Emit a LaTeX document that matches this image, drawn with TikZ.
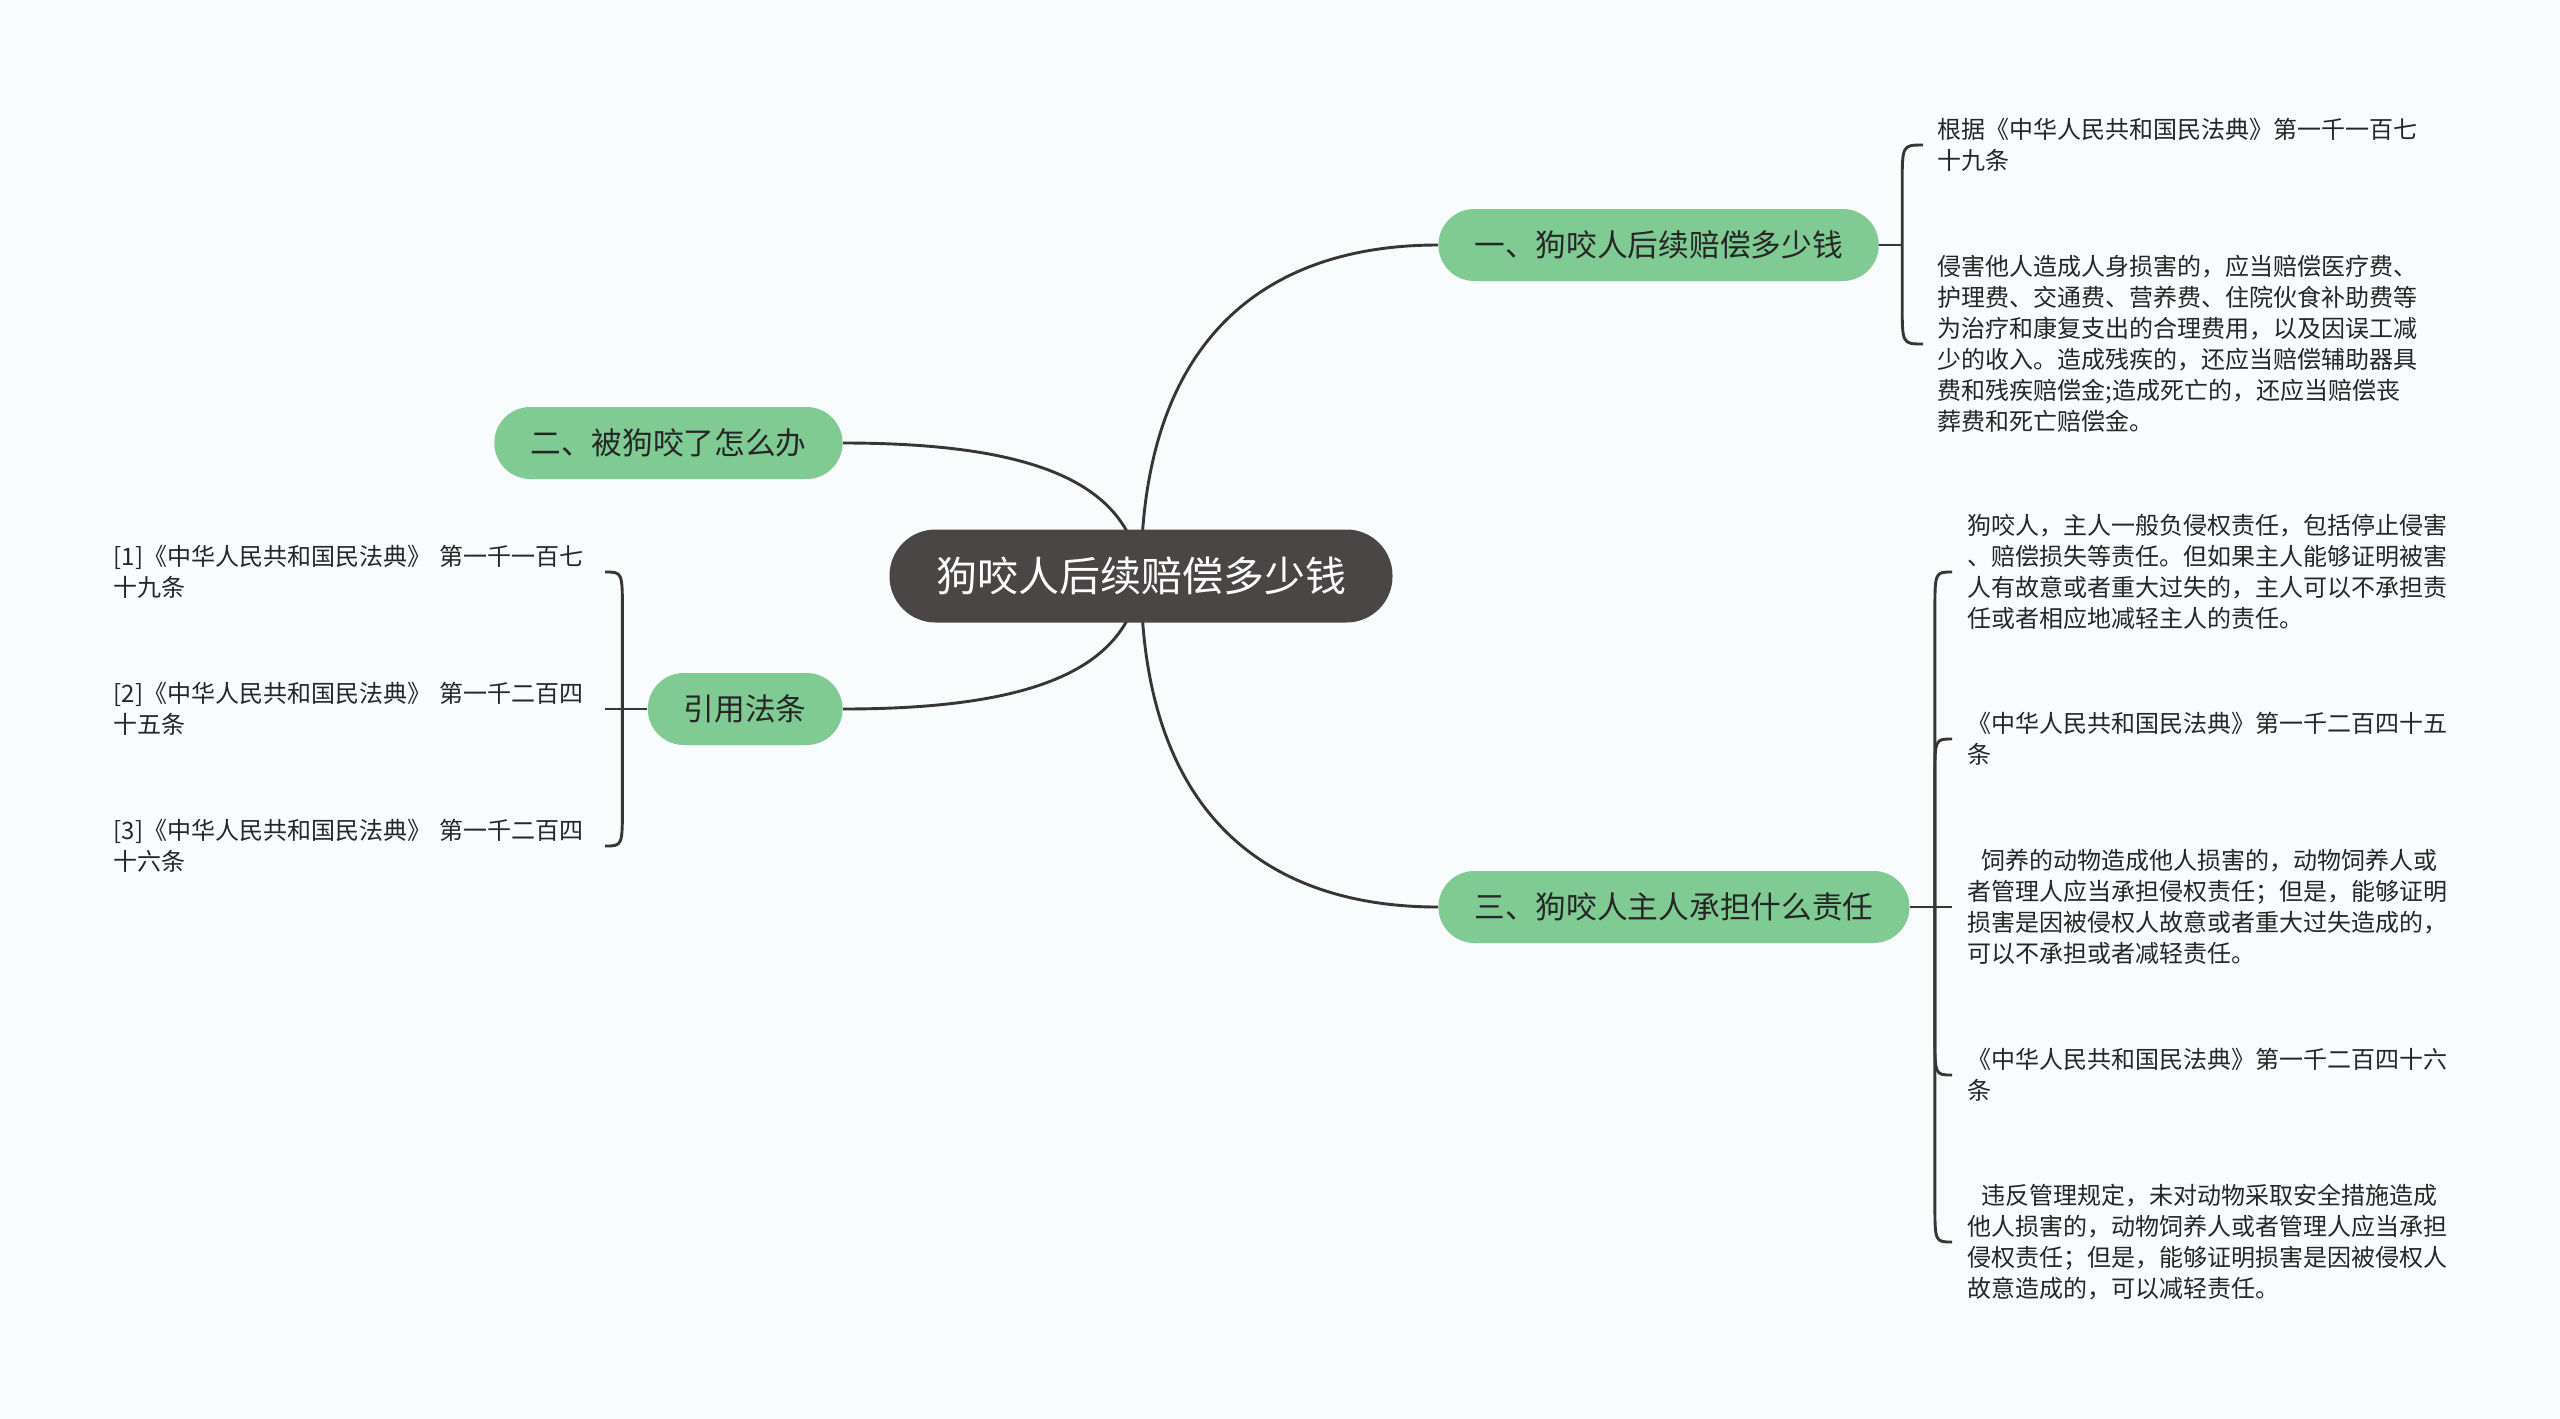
\documentclass[tikz,border=0pt]{standalone}
\usepackage{fontspec}
\setmainfont{Noto Sans CJK SC}
\usetikzlibrary{calc,backgrounds}
\definecolor{mmbg}   {HTML}{F8FCFD}
\definecolor{mmroot} {HTML}{4A4646}
\definecolor{mmgreen}{HTML}{7FCB93}
\definecolor{mmtext} {HTML}{262626}
\definecolor{mmline} {HTML}{3A3535}

\begin{document}
\begin{tikzpicture}[
  x=0.5pt, y=-0.5pt,
  every node/.style={inner sep=0pt},
  root/.style={rectangle, rounded corners=23pt, fill=mmroot, text=white,
               font=\fontsize{20.5pt}{24pt}\selectfont,
               minimum width=251.5pt, minimum height=46.5pt},
  branch/.style={rectangle, rounded corners=18pt, fill=mmgreen, text=mmtext,
                 font=\fontsize{15.35pt}{18pt}\selectfont,
                 minimum height=36pt, inner xsep=18pt},
  leaf/.style={font=\fontsize{12pt}{15.5pt}\selectfont, text=mmtext,
               align=left, text width=246pt, inner xsep=7pt},
  leafl/.style={leaf, text width=240pt, inner xsep=5.5pt, anchor=east},
  link/.style={draw=mmline, line width=1.45pt},
]
\useasboundingbox (0,0) rectangle (2560,1419);

% centre and main topics
\node[root](root) at (1141,576) {狗咬人后续赔偿多少钱};
\node[branch, anchor=west](n1) at (1438,245) {一、狗咬人后续赔偿多少钱};
\node[branch, anchor=east](n2) at (843,443) {二、被狗咬了怎么办};
\node[branch, anchor=east](law) at (843,709) {引用法条};
\node[branch, anchor=west](n3) at (1438,907) {三、狗咬人主人承担什么责任};

% junctions of the brackets
\coordinate (j1) at ($(n1.east)+(23,0)$);
\coordinate (j2) at ($(law.west)+(-25,0)$);
\coordinate (j3) at ($(n3.east)+(25,0)$);

% leaves of topic one
\node[leaf, anchor=west](a1) at (1923,145)
  {根据《中华人民共和国民法典》第一千一百七\\十九条};
\node[leaf, anchor=west](a2) at (1923,344)
  {侵害他人造成人身损害的，应当赔偿医疗费、\\
   护理费、交通费、营养费、住院伙食补助费等\\
   为治疗和康复支出的合理费用，以及因误工减\\
   少的收入。造成残疾的，还应当赔偿辅助器具\\
   费和残疾赔偿金;造成死亡的，还应当赔偿丧\\
   葬费和死亡赔偿金。};

% leaves of topic three
\node[leaf, anchor=west, inner xsep=7.5pt](c1) at (1952,572)
  {狗咬人，主人一般负侵权责任，包括停止侵害\\
   、赔偿损失等责任。但如果主人能够证明被害\\
   人有故意或者重大过失的，主人可以不承担责\\
   任或者相应地减轻主人的责任。};
\node[leaf, anchor=west, inner xsep=7.5pt](c2) at (1952,739)
  {《中华人民共和国民法典》第一千二百四十五\\条};
\node[leaf, anchor=west, inner xsep=7.5pt](c3) at (1952,907)
  {\hspace*{7pt}饲养的动物造成他人损害的，动物饲养人或\\
   者管理人应当承担侵权责任；但是，能够证明\\
   损害是因被侵权人故意或者重大过失造成的，\\
   可以不承担或者减轻责任。};
\node[leaf, anchor=west, inner xsep=7.5pt](c4) at (1952,1075)
  {《中华人民共和国民法典》第一千二百四十六\\条};
\node[leaf, anchor=west, inner xsep=7.5pt](c5) at (1952,1242)
  {\hspace*{7pt}违反管理规定，未对动物采取安全措施造成\\
   他人损害的，动物饲养人或者管理人应当承担\\
   侵权责任；但是，能够证明损害是因被侵权人\\
   故意造成的，可以减轻责任。};

% cited articles
\node[leafl](b1) at (605,572) {[1]《中华人民共和国民法典》 第一千一百七\\十九条};
\node[leafl](b2) at (605,709) {[2]《中华人民共和国民法典》 第一千二百四\\十五条};
\node[leafl](b3) at (605,846) {[3]《中华人民共和国民法典》 第一千二百四\\十六条};

\begin{scope}[on background layer]
\fill[mmbg] (0,0) rectangle (2560,1419);
% curves from the centre
\draw[link] (root.center) .. controls ($(root.center)+(0,-240)$) and ($(n1.west)+(-170,0)$) .. (n1.west);
\draw[link] (root.center) .. controls ($(root.center)+(0,240)$) and ($(n3.west)+(-170,0)$) .. (n3.west);
\draw[link] (root.center) .. controls ($(root.center)+(-11,-86)$) and ($(n2.east)+(207,0)$) .. (n2.east);
\draw[link] (root.center) .. controls ($(root.center)+(-11,86)$) and ($(law.east)+(207,0)$) .. (law.east);
\end{scope}

% brackets
\draw[link] (n1.east) -- (j1);
\draw[link] (j1) -- ($(j1 |- a1.west)!20pt!(j1)$) .. controls (j1 |- a1.west) .. (a1.west);
\draw[link] (j1) -- ($(j1 |- a2.west)!20pt!(j1)$) .. controls (j1 |- a2.west) .. (a2.west);

\draw[link] (n3.east) -- (c3.west);
\draw[link] (j3) -- ($(j3 |- c1.west)!20pt!(j3)$) .. controls (j3 |- c1.west) .. (c1.west);
\draw[link] (j3) -- ($(j3 |- c2.west)!20pt!(j3)$) .. controls (j3 |- c2.west) .. (c2.west);
\draw[link] (j3) -- ($(j3 |- c4.west)!20pt!(j3)$) .. controls (j3 |- c4.west) .. (c4.west);
\draw[link] (j3) -- ($(j3 |- c5.west)!20pt!(j3)$) .. controls (j3 |- c5.west) .. (c5.west);

\draw[link] (law.west) -- (b2.east);
\draw[link] (j2) -- ($(j2 |- b1.east)!20pt!(j2)$) .. controls (j2 |- b1.east) .. (b1.east);
\draw[link] (j2) -- ($(j2 |- b3.east)!20pt!(j2)$) .. controls (j2 |- b3.east) .. (b3.east);
\end{tikzpicture}
\end{document}
